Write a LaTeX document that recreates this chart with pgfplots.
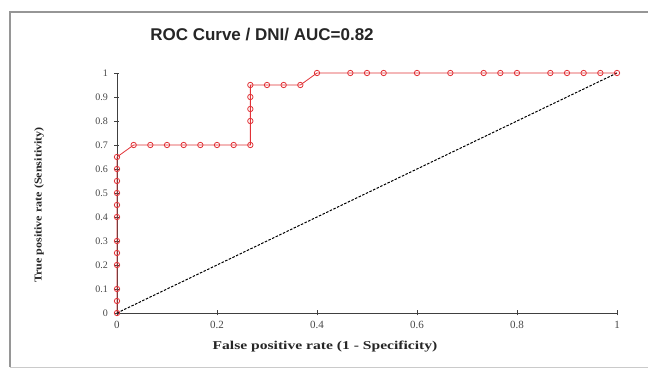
\documentclass[border=0pt]{standalone}
\usepackage{fontspec}
\setmainfont{Liberation Serif}
\newfontfamily\arial{Liberation Sans}
\usepackage{pgfplots}
\pgfplotsset{compat=1.18}
\definecolor{rocred}{RGB}{225,50,55}
\definecolor{framegray}{RGB}{150,150,150}
\definecolor{ticktext}{RGB}{70,70,70}
\begin{document}
\begin{tikzpicture}[x=1pt,y=1pt]
\useasboundingbox (-117,-56) rectangle (531,313);
\draw[framegray,line width=1.2pt] (-107,-54) -- (-107,301) -- (540,301);
\draw[framegray!50,line width=0.8pt] (-107,-54) -- (540,-54);
\begin{axis}[
  at={(0,0)}, anchor=origin,
  scale only axis, width=500pt, height=240pt,
  xmin=0, xmax=1, ymin=0, ymax=1,
  axis x line*=bottom, axis y line*=left,
  axis line style={-, black!75, line width=0.7pt},
  xtick={0,0.2,...,1.0}, ytick={0,0.1,...,1.0},
  xticklabels={0,0.2,0.4,0.6,0.8,1},
  yticklabels={0,0.1,0.2,0.3,0.4,0.5,0.6,0.7,0.8,0.9,1},
  tick align=center, major tick length=5pt,
  tick style={black!75, line width=0.6pt},
  ticklabel style={text=ticktext},
  xticklabel style={font=\fontsize{11}{12}\selectfont, yshift=-2pt},
  yticklabel style={font=\fontsize{10}{11}\selectfont, xshift=-3pt},
  /pgf/number format/assume math mode=true,
  clip=false,
]
\addplot[black, line width=1pt, dash pattern=on 2.5pt off 1.5pt] coordinates {(0,0) (1,1)};
\addplot[rocred, line width=0.8pt, mark=o, mark size=2.7pt, mark options={solid, line width=0.8pt}] coordinates {
(0,0)(0,0.05)(0,0.1)(0,0.2)(0,0.25)(0,0.3)(0,0.4)(0,0.45)(0,0.5)(0,0.55)(0,0.6)(0,0.65)
(0.0333,0.7)(0.0667,0.7)(0.1,0.7)(0.1333,0.7)(0.1667,0.7)(0.2,0.7)(0.2333,0.7)(0.2667,0.7)
(0.2667,0.8)(0.2667,0.85)(0.2667,0.9)(0.2667,0.95)
(0.3,0.95)(0.3333,0.95)(0.3667,0.95)
(0.4,1)(0.4667,1)(0.5,1)(0.5333,1)(0.6,1)(0.6667,1)(0.7333,1)(0.7667,1)(0.8,1)(0.8667,1)(0.9,1)(0.9333,1)(0.9667,1)(1,1)
};
\end{axis}
\node[font=\arial\bfseries\fontsize{17}{19}\selectfont, text=black!85] at (145,278) {ROC Curve / DNI/ AUC=0.82};
\node[font=\bfseries\fontsize{12}{14}\selectfont, text=black!85] at (208,-34) {\scalebox{1.3}[1]{False positive rate (1 - Specificity)}};
\node[font=\bfseries\fontsize{10.5}{12}\selectfont, text=black!85, rotate=90] at (-78,108) {\scalebox{1.15}[1]{True positive rate (Sensitivity)}};
\end{tikzpicture}
\end{document}
